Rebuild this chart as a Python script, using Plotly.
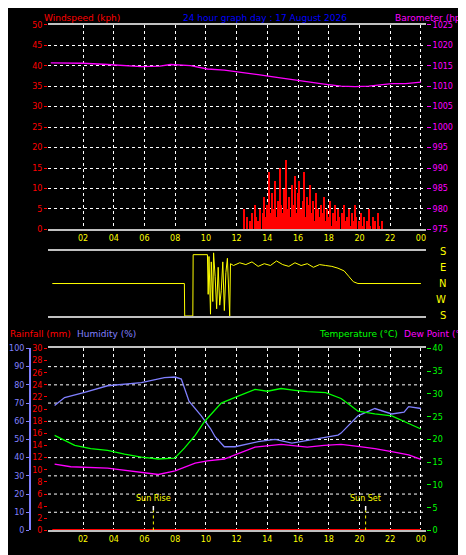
import plotly.graph_objects as go

# ---------------- data ----------------
baro_h = [-0.1, 1.0, 2.0, 3.6, 5.8, 7.0, 7.7, 9.0, 10.1, 11.2, 12.3, 13.4, 14.5, 15.6, 16.6, 17.7, 18.8, 19.7, 20.6, 21.3, 22.1, 23.0, 24.0]
baro_v = [1015.7, 1015.7, 1015.6, 1015.3, 1014.8, 1014.9, 1015.3, 1015.0, 1014.2, 1013.9, 1013.4, 1012.8, 1012.2, 1011.6, 1011.0, 1010.5, 1010.0, 1009.9, 1010.0, 1010.2, 1010.6, 1010.6, 1011.0]

wind_h = [12.5 + 0.1 * i for i in range(93)]
wind_v = [5, 0, 3, 0, 2, 4, 0, 6, 3, 2, 5, 0, 4, 8, 3, 6, 14, 4, 9, 5, 12, 3, 7, 15, 6, 4, 10, 17, 5, 8, 3, 11, 6, 13, 4, 9, 12, 5, 7, 14, 3, 8, 6, 11, 4, 7, 2, 9, 5, 3, 6, 4, 8, 2, 5, 3, 7, 1, 4, 6, 2, 5, 3, 0, 4, 6, 2, 3, 5, 1, 4, 2, 6, 3, 0, 2, 4, 1, 3, 0, 2, 5, 1, 0, 3, 2, 0, 4, 1, 0, 2, 0, 0]

dir_h = [0, 8.6, 8.62, 9.15, 9.17, 10.1, 10.15, 10.2, 10.3, 10.35, 10.45, 10.5, 10.6, 10.7, 10.8, 10.9, 11.0, 11.1, 11.2, 11.3, 11.4, 11.55, 11.6, 11.8, 12.2, 12.6, 13.0, 13.4, 13.8, 14.2, 14.6, 15.0, 15.4, 15.8, 16.2, 16.6, 17.0, 17.4, 17.8, 18.2, 18.6, 19.0, 19.3, 19.6, 19.9, 24.0]
dir_v = [0, 0, -180, -180, 160, 160, -60, 150, -170, 120, -100, 170, 40, -140, 90, -120, -40, 120, -150, 60, 140, -180, 110, 100, 115, 105, 120, 95, 110, 100, 125, 105, 95, 115, 100, 110, 90, 105, 100, 95, 85, 70, 40, 10, 0, 0]

temp_h = [0.15, 1.46, 2.5, 3.6, 4.7, 5.8, 6.9, 7.97, 8.6, 9.3, 9.9, 11.0, 12.1, 13.2, 14.0, 14.9, 15.8, 16.6, 17.8, 18.8, 19.4, 19.9, 21.0, 22.1, 23.2, 24.0]
temp_v = [20.9, 18.7, 18.0, 17.6, 16.8, 16.1, 15.7, 15.9, 18.1, 20.9, 23.9, 28.0, 29.5, 31.0, 30.6, 31.2, 30.8, 30.5, 30.3, 29.0, 27.5, 26.2, 25.6, 25.2, 23.5, 22.3]

hum_h = [0.15, 0.8, 2.1, 3.6, 5.8, 7.3, 8.0, 8.4, 8.9, 9.7, 10.3, 10.6, 11.2, 11.9, 13.4, 14.5, 15.6, 16.7, 17.7, 18.6, 18.8, 19.9, 21.0, 22.1, 22.9, 23.2, 24.0]
hum_v = [68.6, 73.0, 75.8, 79.5, 81.2, 84.0, 84.3, 83.2, 71.0, 63.0, 56.0, 51.5, 46.0, 46.0, 48.8, 50.0, 48.0, 49.5, 50.8, 52.4, 53.5, 63.0, 67.0, 64.0, 65.0, 68.0, 67.0]

dew_h = [0.15, 1.2, 3.6, 5.8, 6.9, 8.0, 9.3, 10.1, 11.2, 12.1, 13.2, 14.9, 16.6, 17.7, 18.8, 19.9, 21.0, 22.1, 23.2, 24.0]
dew_v = [14.6, 14.0, 13.7, 12.8, 12.3, 13.1, 14.8, 15.3, 15.7, 16.9, 18.3, 18.9, 18.3, 18.7, 18.9, 18.5, 18.0, 17.3, 16.6, 15.6]

rain_h = [0.0, 24.0]
rain_v = [0.0, 0.0]

tick_vals = [2, 4, 6, 8, 10, 12, 14, 16, 18, 20, 22, 24]
tick_text = ["02", "04", "06", "08", "10", "12", "14", "16", "18", "20", "22", "00"]
dir_labels = ["S", "E", "N", "W", "S"]
dir_label_vals = [180, 90, 0, -90, -180]
sunrise, sunset = 6.58, 20.4

# ---------------- figure ----------------
W, H = 466, 555
xd = [40 / W, 418 / W]
xr = [-0.28, 24.33]
def py(p):
    return 1 - p / H

fig = go.Figure()
fig.add_trace(go.Bar(x=wind_h, y=wind_v, marker_color="#ff0000", marker_line_width=0, width=0.08, xaxis="x", yaxis="y"))
fig.add_trace(go.Scatter(x=baro_h, y=baro_v, mode="lines", line=dict(color="#ff00ff", width=1.3), xaxis="x", yaxis="y2"))
fig.add_trace(go.Scatter(x=dir_h, y=dir_v, mode="lines", line=dict(color="#ffff00", width=1), xaxis="x2", yaxis="y3"))
fig.add_trace(go.Scatter(x=hum_h, y=hum_v, mode="lines", line=dict(color="#8080ff", width=1.3), xaxis="x3", yaxis="y4"))
fig.add_trace(go.Scatter(x=rain_h, y=rain_v, mode="lines", line=dict(color="#ff0000", width=3), xaxis="x3", yaxis="y5"))
fig.add_trace(go.Scatter(x=temp_h, y=temp_v, mode="lines", line=dict(color="#00ff00", width=1.3), xaxis="x3", yaxis="y6"))
fig.add_trace(go.Scatter(x=dew_h, y=dew_v, mode="lines", line=dict(color="#ff00ff", width=1.3), xaxis="x3", yaxis="y6"))

f = dict(family="DejaVu Sans", size=8)
xcommon = dict(domain=xd, range=xr, tickvals=tick_vals, ticktext=tick_text, tickfont=dict(f, color="#ffff00"),
               showgrid=True, gridcolor="#ffffff", griddash="dot", gridwidth=1, zeroline=False,
               showline=True, linecolor="#c0c0c0", linewidth=2, mirror=True, ticks="", fixedrange=True)
fig.update_layout(
    width=W, height=H, margin=dict(l=0, r=0, t=0, b=0), showlegend=False,
    paper_bgcolor="#000000", plot_bgcolor="#000000", bargap=0,
    xaxis=dict(xcommon, anchor="y"),
    xaxis2=dict(xcommon, anchor="y3", showticklabels=False, showgrid=False),
    xaxis3=dict(xcommon, anchor="y5"),
    yaxis=dict(domain=[py(221), py(13)], range=[0, 50], dtick=5, tickfont=dict(f, color="#ff0000"),
               showgrid=True, gridcolor="#ffffff", griddash="dot", zeroline=False, ticks="outside",
               tickcolor="#ff0000", ticklen=3, anchor="x"),
    yaxis2=dict(overlaying="y", side="right", anchor="x", range=[975, 1025], dtick=5,
                tickfont=dict(f, color="#ff00ff"), showgrid=False, zeroline=False, ticks="outside",
                tickcolor="#ff00ff", ticklen=4),
    yaxis3=dict(domain=[py(309), py(243)], range=[-180, 180], showticklabels=False, showgrid=False,
                zeroline=False, anchor="x2"),
    yaxis4=dict(overlaying="y5", anchor="free", position=22 / W, side="left", range=[0, 100], dtick=10,
                tickfont=dict(f, color="#8080ff"), showgrid=False, zeroline=False, showline=True,
                linecolor="#8080ff", linewidth=2, ticks="outside", tickcolor="#8080ff", ticklen=3),
    yaxis5=dict(domain=[py(527), py(342)], range=[0, 30], tickvals=[0, 2, 4, 6, 8, 10, 12, 14, 16, 18, 20, 22, 24, 26, 28, 30],
                ticktext=["0", "2", "4", "6", "8", "10", "12", "14", "16", "18", "20", "22", "24", "26", "28", "30"],
                tickfont=dict(f, color="#ff0000"), showgrid=False, zeroline=False, ticks="outside",
                tickcolor="#ff0000", ticklen=3, anchor="x3"),
    yaxis6=dict(overlaying="y5", side="right", anchor="x3", range=[0, 40], dtick=5,
                tickfont=dict(f, color="#00ff00"), showgrid=False, zeroline=False, ticks="outside",
                tickcolor="#00ff00", ticklen=4),
)
for v in range(10, 100, 10):
    fig.add_shape(type="line", xref="x3", yref="y4", x0=xr[0], x1=xr[1], y0=v, y1=v, layer="below",
                  line=dict(color="#ffffff", width=1, dash="dot"))

for hh, txt in [(sunrise, "Sun Rise"), (sunset, "Sun Set")]:
    fig.add_shape(type="line", xref="x3", yref="y4", x0=hh, x1=hh, y0=0, y1=11, line=dict(color="#ffff00", width=1, dash="dot"))
    fig.add_shape(type="line", xref="x3", yref="y4", x0=hh, x1=hh, y0=11, y1=13.5, line=dict(color="#ffffff", width=1.5))
    fig.add_annotation(x=hh, y=14, xref="x3", yref="y4", text=txt, showarrow=False, yanchor="bottom",
                       font=dict(f, color="#ffff00"))

for lab, v in zip(dir_labels, dir_label_vals):
    fig.add_annotation(x=440 / W, y=v, xref="paper", yref="y3", text=lab, showarrow=False,
                       font=dict(family="DejaVu Sans", size=10, color="#ffff00"))

tf = dict(family="DejaVu Sans", size=9)
titles = [
    ("Windspeed (kph)", 34, 6, "#ff0000", "left"),
    ("24 hour graph day : 17 August 2026", 257, 6, "#0000ff", "center"),
    ("Barometer (hpa)", 464, 6, "#ff00ff", "right"),
    ("Rainfall (mm)", 0, 327, "#ff0000", "left"),
    ("Humidity (%)", 67, 327, "#8080ff", "left"),
    ("Temperature (°C)", 392, 327, "#00ff00", "right"),
    ("Dew Point (°C)", 464, 327, "#ff00ff", "right"),
]
for txt, xp, yp, col, anc in titles:
    fig.add_annotation(x=xp / W, y=py(yp), xref="paper", yref="paper", text=txt, showarrow=False,
                       xanchor=anc, yanchor="middle", font=dict(tf, color=col))

fig.write_html("out.html")
